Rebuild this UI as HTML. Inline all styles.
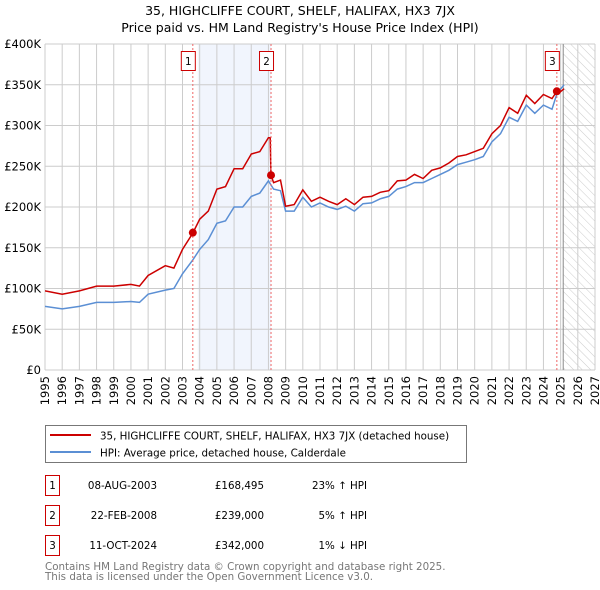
<!DOCTYPE html>
<html><head><meta charset="utf-8"><style>
body{margin:0;background:#fff;}
svg{display:block;font-family:"DejaVu Sans","Liberation Sans",sans-serif;}
</style></head><body>
<svg id="chart" width="600" height="590" viewBox="0 0 600 590" xmlns="http://www.w3.org/2000/svg">
<text x="300" y="15" text-anchor="middle" font-size="12.5">35, HIGHCLIFFE COURT, SHELF, HALIFAX, HX3 7JX</text>
<text x="300" y="32" text-anchor="middle" font-size="12.5">Price paid vs. HM Land Registry's House Price Index (HPI)</text>
<defs><pattern id="hatch" width="6" height="6" patternUnits="userSpaceOnUse" patternTransform="rotate(-45)"><line x1="0" y1="0" x2="0" y2="6" stroke="#ccc" stroke-width="1"/></pattern>
<clipPath id="plotclip"><rect x="45" y="44" width="550" height="326"/></clipPath></defs>
<g id="bg"></g><g id="grid"></g><g id="series" clip-path="url(#plotclip)"></g><g id="marks"></g><g id="axes"></g>
<g>
<rect x="45.5" y="425.5" width="421" height="37" fill="#fff" stroke="#777"/>
<line x1="50" y1="435" x2="91" y2="435" stroke="#cc0000" stroke-width="2"/>
<text x="100" y="439.5" font-size="10.3">35, HIGHCLIFFE COURT, SHELF, HALIFAX, HX3 7JX (detached house)</text>
<line x1="50" y1="452" x2="91" y2="452" stroke="#5b8fd4" stroke-width="2"/>
<text x="100" y="456.5" font-size="10.3">HPI: Average price, detached house, Calderdale</text>
</g>
<g font-size="10.3">
<rect x="45.5" y="475.5" width="14" height="20" fill="#fff" stroke="#c00"/><text x="52.5" y="489" text-anchor="middle">1</text>
<text x="157" y="489" text-anchor="end">08-AUG-2003</text><text x="264" y="489" text-anchor="end">£168,495</text><text x="367" y="489" text-anchor="end">23% ↑ HPI</text>
<rect x="45.5" y="505.5" width="14" height="20" fill="#fff" stroke="#c00"/><text x="52.5" y="519" text-anchor="middle">2</text>
<text x="157" y="519" text-anchor="end">22-FEB-2008</text><text x="264" y="519" text-anchor="end">£239,000</text><text x="367" y="519" text-anchor="end">5% ↑ HPI</text>
<rect x="45.5" y="535.5" width="14" height="20" fill="#fff" stroke="#c00"/><text x="52.5" y="549" text-anchor="middle">3</text>
<text x="157" y="549" text-anchor="end">11-OCT-2024</text><text x="264" y="549" text-anchor="end">£342,000</text><text x="367" y="549" text-anchor="end">1% ↓ HPI</text>
</g>
<text x="45" y="570" font-size="10.3" fill="#777">Contains HM Land Registry data © Crown copyright and database right 2025.</text>
<text x="45" y="580" font-size="10.3" fill="#777">This data is licensed under the Open Government Licence v3.0.</text>
</svg>
<script>
const hpiYears=[1995,1996,1997,1998,1999,2000,2000.5,2001,2002,2002.5,2003,2003.6,2004,2004.5,2005,2005.5,2006,2006.5,2007,2007.5,2008,2008.3,2008.7,2009,2009.5,2010,2010.5,2011,2011.5,2012,2012.5,2013,2013.5,2014,2014.5,2015,2015.5,2016,2016.5,2017,2017.5,2018,2018.5,2019,2019.5,2020,2020.5,2021,2021.5,2022,2022.5,2023,2023.5,2024,2024.5,2024.8,2025.2];
const hpiValues=[78,75,78,83,83,84,83,93,98,100,118,135,148,160,180,183,200,200,213,217,232,222,220,195,195,212,200,205,200,197,201,195,204,205,210,213,222,225,230,230,235,240,245,252,255,258,262,280,290,310,305,325,315,325,320,340,350];
const redYears=[1995,1996,1997,1998,1999,2000,2000.5,2001,2002,2002.5,2003,2003.6,2004,2004.5,2005,2005.5,2006,2006.5,2007,2007.5,2008,2008.1,2008.15,2008.3,2008.7,2009,2009.5,2010,2010.5,2011,2011.5,2012,2012.5,2013,2013.5,2014,2014.5,2015,2015.5,2016,2016.5,2017,2017.5,2018,2018.5,2019,2019.5,2020,2020.5,2021,2021.5,2022,2022.5,2023,2023.5,2024,2024.5,2024.78,2024.9,2025.2];
const redValues=[97,93,97,103,103,105,103,116,128,125,148,168,185,195,222,225,247,247,265,268,285,285,239,230,233,201,203,221,207,212,207,203,210,203,212,213,218,220,232,233,240,235,245,248,254,262,264,268,272,290,300,322,315,337,327,338,333,342,340,345];
const saleLabels=["1","2","3"];
const saleYears=[2003.6,2008.15,2024.78];
const saleValues=[168.495,239,342];
const yTicks=[0,50,100,150,200,250,300,350,400];
const yTickLabels=["£0","£50K","£100K","£150K","£200K","£250K","£300K","£350K","£400K"];
const xTicks=[1995,1996,1997,1998,1999,2000,2001,2002,2003,2004,2005,2006,2007,2008,2009,2010,2011,2012,2013,2014,2015,2016,2017,2018,2019,2020,2021,2022,2023,2024,2025,2026,2027];
const NS="http://www.w3.org/2000/svg";
const X0=45,X1=595,Y0=370,Y1=44;
const xs=v=>X0+(v-1995)/(2027-1995)*(X1-X0);
const ys=v=>Y0-v/400*(Y0-Y1);
function mk(tag,attrs,parent){const e=document.createElementNS(NS,tag);for(const k in attrs)e.setAttribute(k,attrs[k]);document.getElementById(parent).appendChild(e);return e;}
let e;
e=mk('rect',{x:xs(saleYears[0])+5,y:Y1,width:xs(saleYears[1])-xs(saleYears[0])-5,height:Y0-Y1,fill:'#eef3fc',opacity:0.8},'bg');


e=mk('rect',{x:xs(2025.15),y:Y1,width:X1-xs(2025.15),height:Y0-Y1,fill:'url(#hatch)'},'bg');


for(const t of xTicks){e=mk('line',{x1:xs(t),x2:xs(t),y1:Y1,y2:Y0,stroke:'#ccc','stroke-width':1},'grid');


e=mk('text',{x:0,y:0,'font-size':11.5,'text-anchor':'end',transform:`translate(${xs(t)+4},${Y0+6}) rotate(-90)`},'axes');e.textContent=t;

}
yTicks.forEach((t,i)=>{e=mk('line',{x1:X0,x2:X1,y1:ys(t),y2:ys(t),stroke:'#ccc','stroke-width':1},'grid');


e=mk('text',{x:X0-4,y:ys(t)+4,'font-size':11.5,'text-anchor':'end'},'axes');e.textContent=yTickLabels[i];

});
e=mk('line',{x1:xs(2025.15),x2:xs(2025.15),y1:Y1,y2:Y0,stroke:'#888','stroke-width':1},'grid');


function path(xa,va){return xa.map((x,i)=>(i?'L':'M')+xs(x).toFixed(1)+','+ys(va[i]).toFixed(1)).join('');}
e=mk('path',{d:path(hpiYears,hpiValues),fill:'none',stroke:'#5b8fd4','stroke-width':1.5},'series');


e=mk('path',{d:path(redYears,redValues),fill:'none',stroke:'#cc0000','stroke-width':1.5},'series');


saleYears.forEach((y,i)=>{
e=mk('line',{x1:xs(y),x2:xs(y),y1:Y1,y2:Y0,stroke:'#e66','stroke-width':1,'stroke-dasharray':'2,2'},'marks');


e=mk('circle',{cx:xs(y),cy:ys(saleValues[i]),r:4,fill:'#cc0000'},'marks');


e=mk('rect',{x:xs(y)-11.5,y:51.5,width:14,height:19,fill:'#fff',stroke:'#c00'},'marks');


e=mk('text',{x:xs(y)-4.5,y:65,'font-size':10.3,'text-anchor':'middle'},'marks');e.textContent=saleLabels[i];

});
</script>
</body></html>
